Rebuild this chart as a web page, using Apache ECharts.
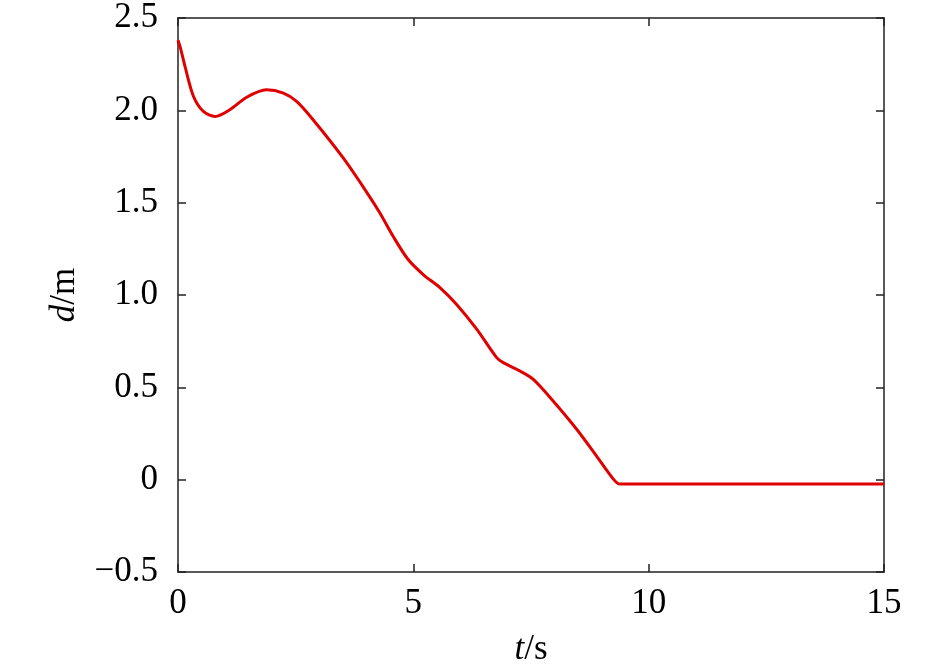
<!DOCTYPE html>
<html><head><meta charset="utf-8">
<script src="https://cdn.jsdelivr.net/npm/echarts@6/dist/echarts.min.js"></script>
<style>html,body{margin:0;padding:0;background:#fff}#c{width:945px;height:672px}</style>
</head><body><div id="c"></div>
<script>
const tValues = [0, 0.05, 0.15, 0.33, 0.54, 0.79, 1.1, 1.46, 1.88, 2.24, 2.52, 2.87, 3.51, 4.0, 4.29, 4.57, 4.89, 5.21, 5.57, 5.92, 6.35, 6.77, 6.91, 7.27, 7.55, 7.97, 8.47, 8.89, 9.25, 9.39, 12, 15];
const dValues = [2.38, 2.34, 2.237, 2.075, 1.994, 1.967, 2.003, 2.071, 2.111, 2.093, 2.048, 1.949, 1.742, 1.56, 1.444, 1.318, 1.192, 1.111, 1.039, 0.949, 0.814, 0.661, 0.634, 0.588, 0.543, 0.426, 0.273, 0.129, 0.003, -0.024, -0.024, -0.024];
const xTicks = [0, 5, 10, 15];
const yTicks = [-0.5, 0, 0.5, 1.0, 1.5, 2.0, 2.5];

const font = 'Liberation Serif';
const chart = echarts.init(document.getElementById('c'), null, {renderer: 'canvas'});
const axisLine = {show: true, onZero: false, lineStyle: {color: '#222', width: 1.5}};
const tick = {show: true, inside: true, length: 8, lineStyle: {color: '#222', width: 1.5}};
const fmtY = v => v === 0 ? '0' : (v < 0 ? '\u2212' + Math.abs(v).toFixed(1) : v.toFixed(1));
const nameStyle = {fontFamily: font, fontSize: 35, color: '#000', rich: {i: {fontFamily: font, fontStyle: 'italic', fontSize: 35, color: '#000'}}};
chart.setOption({
  animation: false,
  backgroundColor: '#fff',
  grid: {left: 178, right: 61, top: 18, bottom: 99, containLabel: false},
  xAxis: [{
    type: 'value', min: 0, max: 15, interval: 5, position: 'bottom',
    axisLine, splitLine: {show: false}, axisTick: tick,
    axisLabel: {fontFamily: font, fontSize: 35, color: '#000', margin: 14},
    name: '{i|t}/s', nameLocation: 'middle', nameGap: 60, nameTextStyle: nameStyle
  }, {
    type: 'value', min: 0, max: 15, interval: 5, position: 'top',
    axisLine, splitLine: {show: false}, axisTick: tick,
    axisLabel: {show: false}
  }],
  yAxis: [{
    type: 'value', min: -0.5, max: 2.5, interval: 0.5, position: 'left',
    axisLine, splitLine: {show: false}, axisTick: tick,
    axisLabel: {fontFamily: font, fontSize: 35, color: '#000', margin: 20, formatter: fmtY},
    name: '{i|d}/m', nameLocation: 'middle', nameGap: 96, nameRotate: 90, nameTextStyle: nameStyle
  }, {
    type: 'value', min: -0.5, max: 2.5, interval: 0.5, position: 'right',
    axisLine, splitLine: {show: false}, axisTick: tick,
    axisLabel: {show: false}
  }],
  series: [{
    type: 'line', xAxisIndex: 0, yAxisIndex: 0,
    data: tValues.map((t, i) => [t, dValues[i]]),
    smooth: 0.3, showSymbol: false,
    lineStyle: {color: '#e00000', width: 3}
  }]
});
</script></body></html>
